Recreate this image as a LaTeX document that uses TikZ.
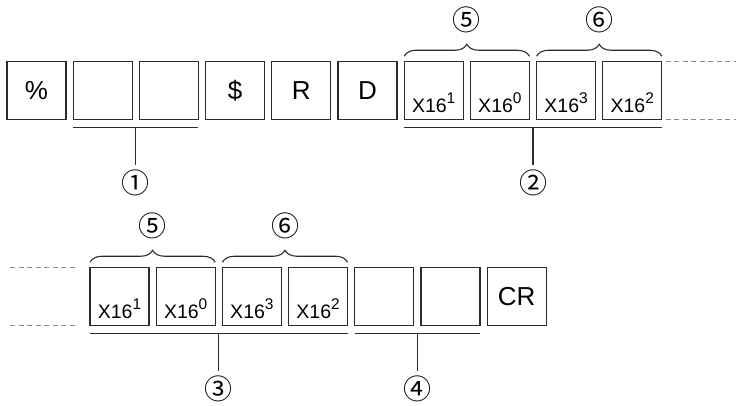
\documentclass[tikz,border=0pt]{standalone}
\usepackage{fontspec}
\setmainfont{Liberation Sans}
\newfontfamily\circfont{Noto Sans CJK JP}
\usepackage{xcolor}
\usepackage{tikz}
\usetikzlibrary{positioning, calc, decorations.pathreplacing}
\definecolor{ink}{HTML}{2B2B2B}
\definecolor{dashgray}{HTML}{8C8C8C}
\newcommand\pw[1]{\raisebox{9pt}{\fontsize{15.5}{15.5}\selectfont #1}}

\begin{document}
\begin{tikzpicture}[x=1pt,y=1pt,node distance=7.2pt and 7.2pt]
  \tikzset{cell/.style={draw=ink,line width=1.1pt,minimum width=59pt,minimum height=58.5pt,inner sep=0pt,outer sep=0pt,font=\fontsize{26}{26}\selectfont},
    hexcell/.style={cell,font=\fontsize{19.5}{19.5}\selectfont,text height=43pt,text depth=0pt},
    rule/.style={draw=ink,line width=1.1pt},
    cont/.style={draw=dashgray,line width=1.1pt,dash pattern=on 5pt off 3.5pt},
    curly/.style={draw=ink,line width=1.1pt,decorate,decoration={brace,amplitude=12pt}},
    num/.style={font=\circfont\fontsize{28}{28}\selectfont,inner sep=0pt}}
  \useasboundingbox (0,0) rectangle (736,-405);
  \coordinate (lt) at (10,0); \coordinate (rt) at (736,0);
  % first row
  \node[cell] (pct) at (36.5,-90.5) {\%};
  \node[cell,right=of pct] (a1) {};
  \node[cell,right=of a1] (a2) {};
  \node[cell,right=of a2] (dol) {\$};
  \node[cell,right=of dol] (r) {R};
  \node[cell,right=of r] (d) {D};
  \node[hexcell,right=of d] (h1) {X16\pw{1}};
  \node[hexcell,right=of h1] (h2) {X16\pw{0}};
  \node[hexcell,right=of h2] (h3) {X16\pw{3}};
  \node[hexcell,right=of h3] (h4) {X16\pw{2}};
  \draw[cont] ([xshift=4pt]h4.north east) -- (h4.north east -| rt);
  \draw[cont] ([xshift=4pt]h4.south east) -- (h4.south east -| rt);
  \coordinate (u1) at ($(a1.south west)!.5!(a2.south east)+(0,-8)$);
  \coordinate (u2) at ($(h1.south west)!.5!(h4.south east)+(0,-8)$);
  \draw[rule] ([yshift=-8pt]a1.south west) -- ([yshift=-8pt]a2.south east);
  \draw[rule] ([yshift=-8pt]h1.south west) -- ([yshift=-8pt]h4.south east);
  \node[num] (n1) at ($(u1)+(0,-55)$) {①};
  \node[num] (n2) at ($(u2)+(0,-55)$) {②};
  \draw[rule] (u1) -- ++(0,-37) coordinate (t1); \draw[rule] (u2) -- ++(0,-37) coordinate (t2);
  \draw[curly] ([yshift=5pt]h1.north west) -- ([yshift=5pt]h2.north east);
  \draw[curly] ([yshift=5pt]h3.north west) -- ([yshift=5pt]h4.north east);
  \node[num] (n5) at ($(h1.north west)!.5!(h2.north east)+(0,41)$) {⑤};
  \node[num] (n6) at ($(h3.north west)!.5!(h4.north east)+(0,41)$) {⑥};
  % second row
  \node[hexcell] (g1) at (119.5,-296.5) {X16\pw{1}};
  \node[hexcell,right=of g1] (g2) {X16\pw{0}};
  \node[hexcell,right=of g2] (g3) {X16\pw{3}};
  \node[hexcell,right=of g3] (g4) {X16\pw{2}};
  \node[cell,right=of g4] (c1) {};
  \node[cell,right=of c1] (c2) {};
  \node[cell,right=of c2] (cr) {CR};
  \draw[cont] (lt |- g1.north west) -- ([xshift=-12pt]g1.north west);
  \draw[cont] (lt |- g1.south west) -- ([xshift=-12pt]g1.south west);
  \coordinate (u3) at ($(g1.south west)!.5!(g4.south east)+(0,-8)$);
  \coordinate (u4) at ($(c1.south west)!.5!(c2.south east)+(0,-8)$);
  \draw[rule] ([yshift=-8pt]g1.south west) -- ([yshift=-8pt]g4.south east);
  \draw[rule] ([yshift=-8pt]c1.south west) -- ([yshift=-8pt]c2.south east);
  \node[num] (n3) at ($(u3)+(0,-55)$) {③};
  \node[num] (n4) at ($(u4)+(0,-55)$) {④};
  \draw[rule] (u3) -- ++(0,-37) coordinate (t3); \draw[rule] (u4) -- ++(0,-37) coordinate (t4);
  \draw[curly] ([yshift=5pt]g1.north west) -- ([yshift=5pt]g2.north east);
  \draw[curly] ([yshift=5pt]g3.north west) -- ([yshift=5pt]g4.north east);
  \node[num] (n7) at ($(g1.north west)!.5!(g2.north east)+(0,41)$) {⑤};
  \node[num] (n8) at ($(g3.north west)!.5!(g4.north east)+(0,41)$) {⑥};
\end{tikzpicture}
\end{document}
